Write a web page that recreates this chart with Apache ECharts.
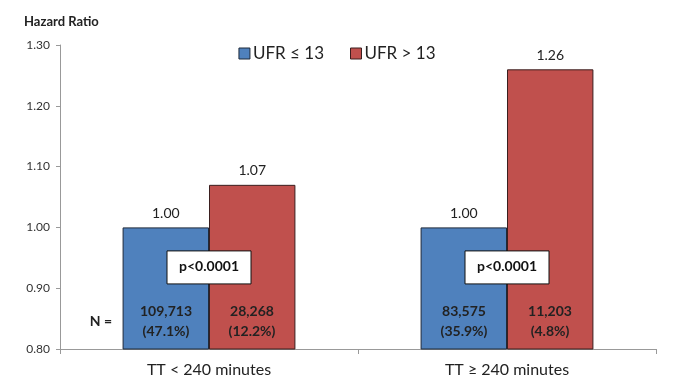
<!DOCTYPE html>
<html><head><meta charset="utf-8">
<script src="https://cdn.jsdelivr.net/npm/echarts@6/dist/echarts.min.js"></script>
<style>html,body{margin:0;padding:0;background:#fff}#c{width:674px;height:378px}</style>
</head><body><div id="c"></div>
<script>
const categories = ['TT < 240 minutes', 'TT \u2265 240 minutes'];
const seriesNames = ['UFR \u2264 13', 'UFR > 13'];
const hrLow = [1.00, 1.00];
const hrHigh = [1.07, 1.26];
const nLow = ['109,713', '83,575'];
const pctLow = ['(47.1%)', '(35.9%)'];
const nHigh = ['28,268', '11,203'];
const pctHigh = ['(12.2%)', '(4.8%)'];
const pValues = ['p<0.0001', 'p<0.0001'];
const yTicks = [0.8, 0.9, 1.0, 1.1, 1.2, 1.3];

const FONT = 'Lato, "Noto Sans", sans-serif';
const chart = echarts.init(document.getElementById('c'));
const barLabel = {show: true, position: 'top', distance: 7, color: '#222', fontSize: 14, fontFamily: FONT,
  formatter: p => p.value.toFixed(2)};
chart.setOption({
  animation: false,
  textStyle: {fontFamily: FONT},
  title: {text: 'Hazard Ratio', left: 19, top: 10, textStyle: {fontSize: 13, fontWeight: 'bold', color: '#222', fontFamily: FONT}},
  legend: {data: seriesNames, top: 40, left: 'center', icon: 'rect', itemWidth: 11, itemHeight: 11, itemGap: 26,
    itemStyle: {borderWidth: 1},
    textStyle: {fontSize: 17, color: '#222', fontFamily: FONT, padding: [0, 0, 0, -2]}},
  grid: {left: 60, right: 18, top: 45, bottom: 29},
  xAxis: {type: 'category', data: categories,
    axisLine: {lineStyle: {color: '#999'}},
    axisTick: {show: true, length: 5, lineStyle: {color: '#999'}},
    axisLabel: {fontSize: 16, color: '#222', margin: 13, fontFamily: FONT}},
  yAxis: {type: 'value', min: yTicks[0], max: yTicks[yTicks.length - 1], interval: 0.1,
    splitLine: {show: false},
    axisLine: {show: true, lineStyle: {color: '#999'}},
    axisTick: {show: true, length: 4, lineStyle: {color: '#999'}},
    axisLabel: {fontSize: 12, color: '#333', margin: 10, fontFamily: FONT, formatter: v => v.toFixed(2)}},
  series: [
    {name: seriesNames[0], type: 'bar', data: hrLow, barWidth: '29%', barGap: '0%',
      itemStyle: {color: '#4F81BD', borderColor: '#1f2a3a', borderWidth: 1}, label: barLabel},
    {name: seriesNames[1], type: 'bar', data: hrHigh, barWidth: '29%', barGap: '0%',
      itemStyle: {color: '#C0504D', borderColor: '#3a1f1f', borderWidth: 1}, label: barLabel}
  ]
});

// annotations positioned through the axes
const gfx = [];
const bw = 86;
categories.forEach((c, i) => {
  const center = chart.convertToPixel({xAxisIndex: 0, yAxisIndex: 0}, [i, 0.935]);
  const nPos = chart.convertToPixel({xAxisIndex: 0, yAxisIndex: 0}, [i, 0.846]);
  const cx = center[0];
  gfx.push({type: 'rect', shape: {x: cx - 42, y: center[1] - 16, width: 84, height: 33},
    style: {fill: '#fff', stroke: '#111', lineWidth: 1}, z: 100});
  gfx.push({type: 'text', x: cx, y: center[1], z: 101,
    style: {text: pValues[i], font: 'bold 14px ' + FONT, fill: '#111', align: 'center', verticalAlign: 'middle'}});
  gfx.push({type: 'text', x: cx - bw / 2, y: nPos[1], z: 101,
    style: {text: nLow[i] + '\n' + pctLow[i], font: 'bold 14px ' + FONT, lineHeight: 20, fill: '#222', align: 'center', verticalAlign: 'middle'}});
  gfx.push({type: 'text', x: cx + bw / 2, y: nPos[1], z: 101,
    style: {text: nHigh[i] + '\n' + pctHigh[i], font: 'bold 14px ' + FONT, lineHeight: 20, fill: '#222', align: 'center', verticalAlign: 'middle'}});
});
const nLab = chart.convertToPixel({xAxisIndex: 0, yAxisIndex: 0}, [0, 0.846]);
gfx.push({type: 'text', x: 101, y: nLab[1], z: 101,
  style: {text: 'N =', font: 'bold 14px ' + FONT, fill: '#222', align: 'center', verticalAlign: 'middle'}});
chart.setOption({graphic: gfx});
</script></body></html>
